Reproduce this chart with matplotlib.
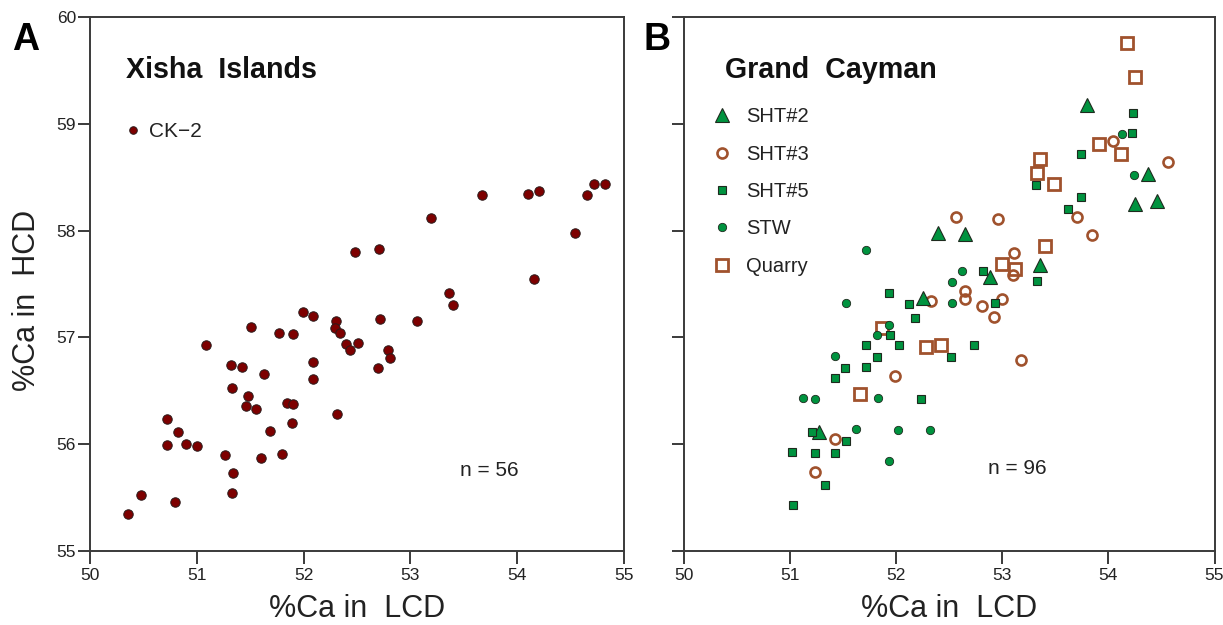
import matplotlib
matplotlib.use("Agg")
import matplotlib.pyplot as plt

plt.rcParams['font.family'] = ['Liberation Sans', 'DejaVu Sans']

# ---------------- Data ----------------
# Panel A: Xisha Islands, CK-2
a_lcd = [50.36, 50.48, 50.80, 50.72, 50.82, 50.72, 50.90, 51.00, 51.09, 51.26,
         51.34, 51.33, 51.32, 51.42, 51.33, 51.51, 51.48, 51.46, 51.55, 51.63,
         51.69, 51.60, 51.80, 51.77, 51.90, 51.99, 52.09, 51.84, 51.90, 51.89,
         52.09, 52.09, 52.30, 52.29, 52.34, 52.40, 52.43, 52.51, 52.31, 52.48,
         52.71, 53.19, 53.67, 54.10, 54.20, 54.65, 54.72, 54.82, 54.54, 54.16,
         53.36, 53.40, 52.72, 53.06, 52.79, 52.81, 52.70]
a_hcd = [55.35, 55.52, 55.46, 56.24, 56.11, 55.99, 56.00, 55.98, 56.93, 55.90,
         55.73, 55.54, 56.74, 56.72, 56.53, 57.10, 56.45, 56.36, 56.33, 56.66,
         56.12, 55.87, 55.91, 57.04, 57.03, 57.24, 57.20, 56.39, 56.38, 56.20,
         56.77, 56.61, 57.15, 57.09, 57.04, 56.94, 56.88, 56.95, 56.28, 57.80,
         57.83, 58.12, 58.33, 58.34, 58.37, 58.33, 58.44, 58.44, 57.98, 57.55,
         57.42, 57.30, 57.17, 57.15, 56.88, 56.81, 56.71]

# Panel B: Grand Cayman
sht2_lcd = [52.25, 51.27, 52.39, 52.65, 53.36, 52.88, 53.80, 54.37, 54.25, 54.46]
sht2_hcd = [57.37, 56.11, 57.98, 57.97, 57.68, 57.57, 59.18, 58.53, 58.25, 58.28]

sht3_lcd = [52.33, 51.99, 51.42, 51.23, 52.56, 52.96, 53.11, 53.10, 52.65,
            52.65, 53.00, 52.81, 52.92, 53.18, 54.04, 54.56, 53.70, 53.85]
sht3_hcd = [57.34, 56.64, 56.05, 55.74, 58.13, 58.11, 57.79, 57.58, 57.43,
            57.36, 57.36, 57.29, 57.19, 56.79, 58.84, 58.64, 58.13, 57.96]

sht5_lcd = [51.93, 52.12, 52.18, 51.94, 52.03, 51.72, 51.82, 51.52, 51.42, 51.72,
            52.52, 52.23, 51.21, 51.53, 51.02, 51.23, 51.42, 51.33, 51.03, 53.62,
            53.33, 52.82, 52.93, 52.73, 54.23, 54.22, 53.74, 53.32, 53.74]
sht5_hcd = [57.42, 57.31, 57.18, 57.02, 56.93, 56.93, 56.82, 56.71, 56.62, 56.72,
            56.82, 56.42, 56.11, 56.03, 55.93, 55.92, 55.92, 55.62, 55.43, 58.20,
            57.53, 57.62, 57.32, 56.93, 59.10, 58.91, 58.72, 58.43, 58.31]

stw_lcd = [51.53, 52.53, 52.53, 51.93, 51.82, 51.42, 51.12, 51.23, 51.83, 51.62,
           52.02, 52.32, 51.93, 52.62, 54.13, 54.24, 51.72]
stw_hcd = [57.32, 57.52, 57.32, 57.12, 57.02, 56.83, 56.43, 56.42, 56.43, 56.14,
           56.13, 56.13, 55.84, 57.62, 58.90, 58.52, 57.82]

quarry_lcd = [51.87, 51.66, 52.28, 52.42, 53.40, 53.00, 53.12, 54.18, 54.25,
              53.91, 54.12, 53.36, 53.33, 53.49]
quarry_hcd = [57.09, 56.47, 56.91, 56.93, 57.86, 57.69, 57.64, 59.76, 59.44,
              58.81, 58.72, 58.67, 58.54, 58.44]

x_ticks = [50, 51, 52, 53, 54, 55]
y_ticks = [55, 56, 57, 58, 59, 60]

# ---------------- Styles ----------------
MAROON = '#7d0000'
GREEN = '#00933f'
BROWN = '#a0522d'
DARK = '#1e2a1e'
SPINE = '#3a3a3a'

W, H = 1223, 625
fig = plt.figure(figsize=(W / 100, H / 100), dpi=100)
axA = fig.add_axes([90 / W, 74 / H, 534 / W, 534 / H])
axB = fig.add_axes([684 / W, 74 / H, 530.5 / W, 534 / H])


def style_axes(ax, ylabels=True):
    ax.set_xlim(50, 55)
    ax.set_ylim(55, 60)
    ax.set_xticks(x_ticks)
    ax.set_yticks(y_ticks)
    for s in ax.spines.values():
        s.set_color(SPINE)
        s.set_linewidth(1.4)
    ax.tick_params(direction='out', length=9, width=1.4, color=SPINE,
                   labelsize=12.5, labelcolor='#222222')
    ax.tick_params(axis='x', pad=3)
    ax.tick_params(axis='y', pad=1)
    if not ylabels:
        ax.tick_params(axis='y', labelleft=False)
    ax.set_xlabel('%Ca in  LCD', fontsize=22, color='#222222', labelpad=8)


style_axes(axA)
style_axes(axB, ylabels=False)
axA.set_ylabel('%Ca in  HCD', fontsize=22, color='#222222')
axA.yaxis.set_label_coords(-0.09, 0.47)

# Panel A
axA.plot(a_lcd, a_hcd, linestyle='none', marker='o', markersize=6.8,
         markerfacecolor=MAROON, markeredgecolor='#2a1a1a', markeredgewidth=0.7,
         label='CK\u22122')
legA = axA.legend(loc='center left', bbox_to_anchor=(0.065, 0.785),
                  frameon=False, fontsize=15, handlelength=0.8,
                  handletextpad=0.35, borderpad=0, borderaxespad=0,
                  markerscale=0.8)

# Panel B
axB.plot(sht2_lcd, sht2_hcd, linestyle='none', marker='^', markersize=10.5,
         markerfacecolor=GREEN, markeredgecolor=DARK, markeredgewidth=0.8,
         label='SHT#2', zorder=4)
axB.plot(sht3_lcd, sht3_hcd, linestyle='none', marker='o', markersize=7.2,
         markerfacecolor='none', markeredgecolor=BROWN, markeredgewidth=1.9,
         label='SHT#3', zorder=3)
axB.plot(sht5_lcd, sht5_hcd, linestyle='none', marker='s', markersize=6.4,
         markerfacecolor=GREEN, markeredgecolor=DARK, markeredgewidth=0.8,
         label='SHT#5', zorder=4)
axB.plot(stw_lcd, stw_hcd, linestyle='none', marker='o', markersize=6.0,
         markerfacecolor=GREEN, markeredgecolor=DARK, markeredgewidth=0.6,
         label='STW', zorder=4)
axB.plot(quarry_lcd, quarry_hcd, linestyle='none', marker='s', markersize=8.6,
         markerfacecolor='none', markeredgecolor=BROWN, markeredgewidth=2.0,
         label='Quarry', zorder=3)
legB = axB.legend(loc='center left', bbox_to_anchor=(0.0525, 0.673),
                  frameon=False, fontsize=14.5, handlelength=1.0,
                  handletextpad=0.7, borderpad=0, borderaxespad=0,
                  labelspacing=0.91)
for leg in (legA, legB):
    for t in leg.get_texts():
        t.set_color('#222222')

# Texts
fig.text(12 / W, 1 - 40 / H, 'A', fontsize=27, fontweight='bold', va='center', ha='left')
fig.text(643 / W, 1 - 40 / H, 'B', fontsize=27, fontweight='bold', va='center', ha='left')
fig.text(126 / W, 1 - 70 / H, 'Xisha  Islands', fontsize=20.6, fontweight='bold',
         va='center', ha='left', color='#111111')
fig.text(725 / W, 1 - 70 / H, 'Grand  Cayman', fontsize=20.6, fontweight='bold',
         va='center', ha='left', color='#111111')
fig.text(460 / W, 1 - 470 / H, 'n = 56', fontsize=15, va='center', ha='left', color='#222222')
fig.text(988 / W, 1 - 469 / H, 'n = 96', fontsize=15, va='center', ha='left', color='#222222')

fig.savefig('out.png', dpi=100)
